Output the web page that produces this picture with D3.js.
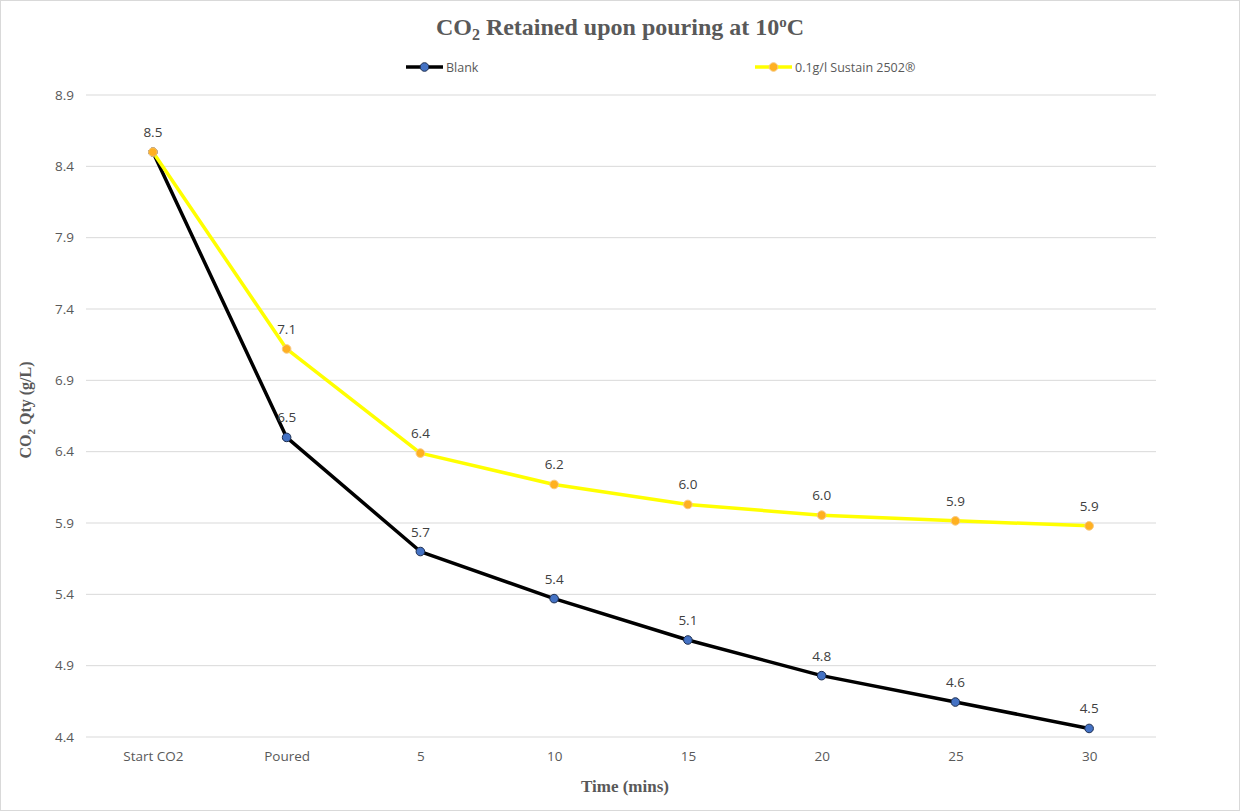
<!DOCTYPE html>
<html><head><meta charset="utf-8">
<script src="https://cdn.jsdelivr.net/npm/d3@7"></script>
<style>body{margin:0;background:#fff}svg{display:block}</style>
</head><body>
<svg id="chart" width="1240" height="811"></svg>
<script>
const categories = ["Start CO2","Poured","5","10","15","20","25","30"];
const blankValues = [8.50, 6.50, 5.70, 5.37, 5.08, 4.83, 4.645, 4.46];
const sustainValues = [8.50, 7.12, 6.39, 6.17, 6.03, 5.955, 5.915, 5.88];
const yTicks = [4.4, 4.9, 5.4, 5.9, 6.4, 6.9, 7.4, 7.9, 8.4, 8.9];
const seriesNames = ["Blank", "0.1g/l Sustain 2502®"];

const svg = d3.select("#chart");
const W = 1240, H = 811;
const m = {left: 86, right: 1156, top: 95, bottom: 737};
const labelFont = "'Open Sans', 'Liberation Sans', sans-serif";
const serif = "'Liberation Serif', 'DejaVu Serif', serif";

svg.append("rect").attr("x",0.5).attr("y",0.5).attr("width",W-1).attr("height",H-1)
  .attr("fill","#fff").attr("stroke","#d9d9d9");

const x = d3.scalePoint().domain(categories).range([m.left, m.right]).padding(0.5);
const y = d3.scaleLinear().domain([4.4, 8.9]).range([m.bottom, m.top]);

// gridlines
svg.append("g").selectAll("line").data(yTicks).join("line")
  .attr("x1", m.left).attr("x2", m.right)
  .attr("y1", d => y(d)).attr("y2", d => y(d))
  .attr("stroke", "#d9d9d9").attr("stroke-width", 1);

// y axis labels
const yAxis = d3.axisLeft(y).tickValues(yTicks).tickFormat(d3.format(".1f")).tickSize(0).tickPadding(12);
const gy = svg.append("g").attr("transform", `translate(${m.left},0)`).call(yAxis);
gy.select(".domain").remove();
gy.selectAll("text").attr("font-family", labelFont).attr("font-size", 13.5).attr("fill", "#595959");

// x axis labels
const xAxis = d3.axisBottom(x).tickSize(0).tickPadding(14);
const gx = svg.append("g").attr("transform", `translate(0,${m.bottom})`).call(xAxis);
gx.select(".domain").remove();
gx.selectAll("text").attr("font-family", labelFont).attr("font-size", 13.5).attr("fill", "#595959");

// lines
const line = d3.line().x((d,i) => x(categories[i])).y(d => y(d));
const series = [
  {name: seriesNames[0], values: blankValues, stroke: "#000000", fill: "#4472C4", mstroke: "#1f2f4f"},
  {name: seriesNames[1], values: sustainValues, stroke: "#FFFF00", fill: "#FFB020", mstroke: "#F8C880"}
];
series.forEach(s => {
  svg.append("path").datum(s.values).attr("d", line)
    .attr("fill","none").attr("stroke", s.stroke).attr("stroke-width", 3.5)
    .attr("stroke-linejoin","round");
});
series.forEach(s => {
  svg.append("g").selectAll("circle").data(s.values).join("circle")
    .attr("cx", (d,i) => x(categories[i])).attr("cy", d => y(d)).attr("r", 4.3)
    .attr("fill", s.fill).attr("stroke", s.mstroke).attr("stroke-width", 1);
});
// data labels
series.forEach((s, si) => {
  const pts = s.values.map((v, i) => ({cat: categories[i], v, i}))
    .filter(p => !(si === 0 && p.i === 0));
  svg.append("g").selectAll("text").data(pts).join("text")
    .attr("x", p => x(p.cat)).attr("y", p => y(p.v) - 15)
    .attr("text-anchor","middle").attr("font-family", labelFont).attr("font-size", 13.5)
    .attr("fill","#404040").text(p => d3.format(".1f")(p.v));
});

// title
const title = svg.append("text").attr("x", 620).attr("y", 35).attr("text-anchor","middle")
  .attr("font-family", serif).attr("font-weight","bold").attr("font-size", 24).attr("fill","#595959");
title.append("tspan").text("CO");
title.append("tspan").attr("font-size", 16).attr("dy", 5).text("2");
title.append("tspan").attr("dy", -5).text(" Retained upon pouring at 10");
title.append("tspan").attr("font-size", 15).attr("dy", -8).text("o");
title.append("tspan").attr("dy", 8).text("C");

// legend
const legendPos = [406, 755];
series.forEach((s, i) => {
  const lx = legendPos[i], ly = 67;
  svg.append("line").attr("x1", lx).attr("x2", lx+37).attr("y1", ly).attr("y2", ly)
    .attr("stroke", s.stroke).attr("stroke-width", 3.5);
  svg.append("circle").attr("cx", lx+18.5).attr("cy", ly).attr("r", 4.3)
    .attr("fill", s.fill).attr("stroke", s.mstroke);
  svg.append("text").attr("x", lx+40).attr("y", ly+4.5).attr("font-family", labelFont)
    .attr("font-size", 12.5).attr("fill","#595959").text(s.name);
});

// y axis title
const yt = svg.append("text").attr("transform", "translate(31,410) rotate(-90)").attr("text-anchor","middle")
  .attr("font-family", serif).attr("font-weight","bold").attr("font-size", 16).attr("fill","#595959");
yt.append("tspan").text("CO");
yt.append("tspan").attr("font-size", 11).attr("dy", 4).text("2");
yt.append("tspan").attr("dy", -4).text(" Qty (g/L)");

// x axis title
svg.append("text").attr("x", 625).attr("y", 792).attr("text-anchor","middle")
  .attr("font-family", serif).attr("font-weight","bold").attr("font-size", 17).attr("fill","#595959")
  .text("Time (mins)");
</script>
</body></html>
